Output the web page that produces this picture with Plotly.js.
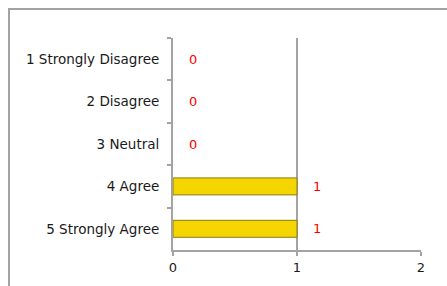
<!DOCTYPE html>
<html>
<head>
<meta charset="utf-8">
<script src="https://cdn.plot.ly/plotly-3.0.1.min.js"></script>
<style>
  html, body { margin: 0; padding: 0; background: #fff; }
  #chart { width: 447px; height: 286px; }
</style>
</head>
<body>
<div id="chart"></div>
<script>
const categories = ["1 Strongly Disagree", "2 Disagree", "3 Neutral", "4 Agree", "5 Strongly Agree"];
const counts = [0, 0, 0, 1, 1];
const xTickValues = [0, 1, 2];

const fontFamily = "DejaVu Sans, Verdana, sans-serif";
const gray = "#a3a3a3";

const barTrace = {
  type: "bar",
  orientation: "h",
  y: categories,
  x: counts,
  width: 0.4,
  marker: {
    color: "#f4d500",
    line: { color: "#8f7a10", width: counts.map(v => (v > 0 ? 1 : 0)) }
  },
  hoverinfo: "x+y",
  showlegend: false
};

const annotations = categories.map((c, i) => ({
  x: counts[i],
  y: c,
  xref: "x",
  yref: "y",
  text: String(counts[i]),
  showarrow: false,
  xanchor: "center",
  yanchor: "middle",
  xshift: 20,
  font: { family: fontFamily, size: 13, color: "#ff0000" }
}));

const layout = {
  width: 447,
  height: 286,
  margin: { l: 173, r: 26, t: 38, b: 36 },
  paper_bgcolor: "#ffffff",
  plot_bgcolor: "#ffffff",
  font: { family: fontFamily, size: 13, color: "#1a1a1a" },
  showlegend: false,
  xaxis: {
    range: [0, 2],
    tickvals: xTickValues,
    ticktext: xTickValues.map(String),
    showgrid: true,
    gridcolor: gray,
    gridwidth: 2,
    zeroline: false,
    showline: true,
    linecolor: gray,
    linewidth: 2,
    ticks: "outside",
    ticklen: 4,
    tickwidth: 2,
    tickcolor: gray,
    tickfont: { family: fontFamily, size: 13, color: "#1a1a1a" },
    fixedrange: true
  },
  yaxis: {
    type: "category",
    categoryorder: "array",
    categoryarray: categories,
    autorange: "reversed",
    showgrid: false,
    zeroline: false,
    showline: true,
    linecolor: gray,
    linewidth: 2,
    ticks: "outside",
    tickson: "boundaries",
    ticklen: 4,
    tickwidth: 2,
    tickcolor: gray,
    ticklabelstandoff: 9,
    tickfont: { family: fontFamily, size: 13.5, color: "#1a1a1a" },
    fixedrange: true
  },
  bargap: 0.6,
  annotations: annotations,
  shapes: [
    {
      type: "rect",
      xref: "paper",
      yref: "paper",
      x0: (9 - 173) / 248,
      x1: 1.3,
      y0: -0.4,
      y1: (250 - 9) / 212,
      line: { color: gray, width: 2 },
      fillcolor: "rgba(0,0,0,0)",
      layer: "below"
    }
  ]
};

Plotly.newPlot("chart", [barTrace], layout, { displayModeBar: false, staticPlot: true });
</script>
</body>
</html>
